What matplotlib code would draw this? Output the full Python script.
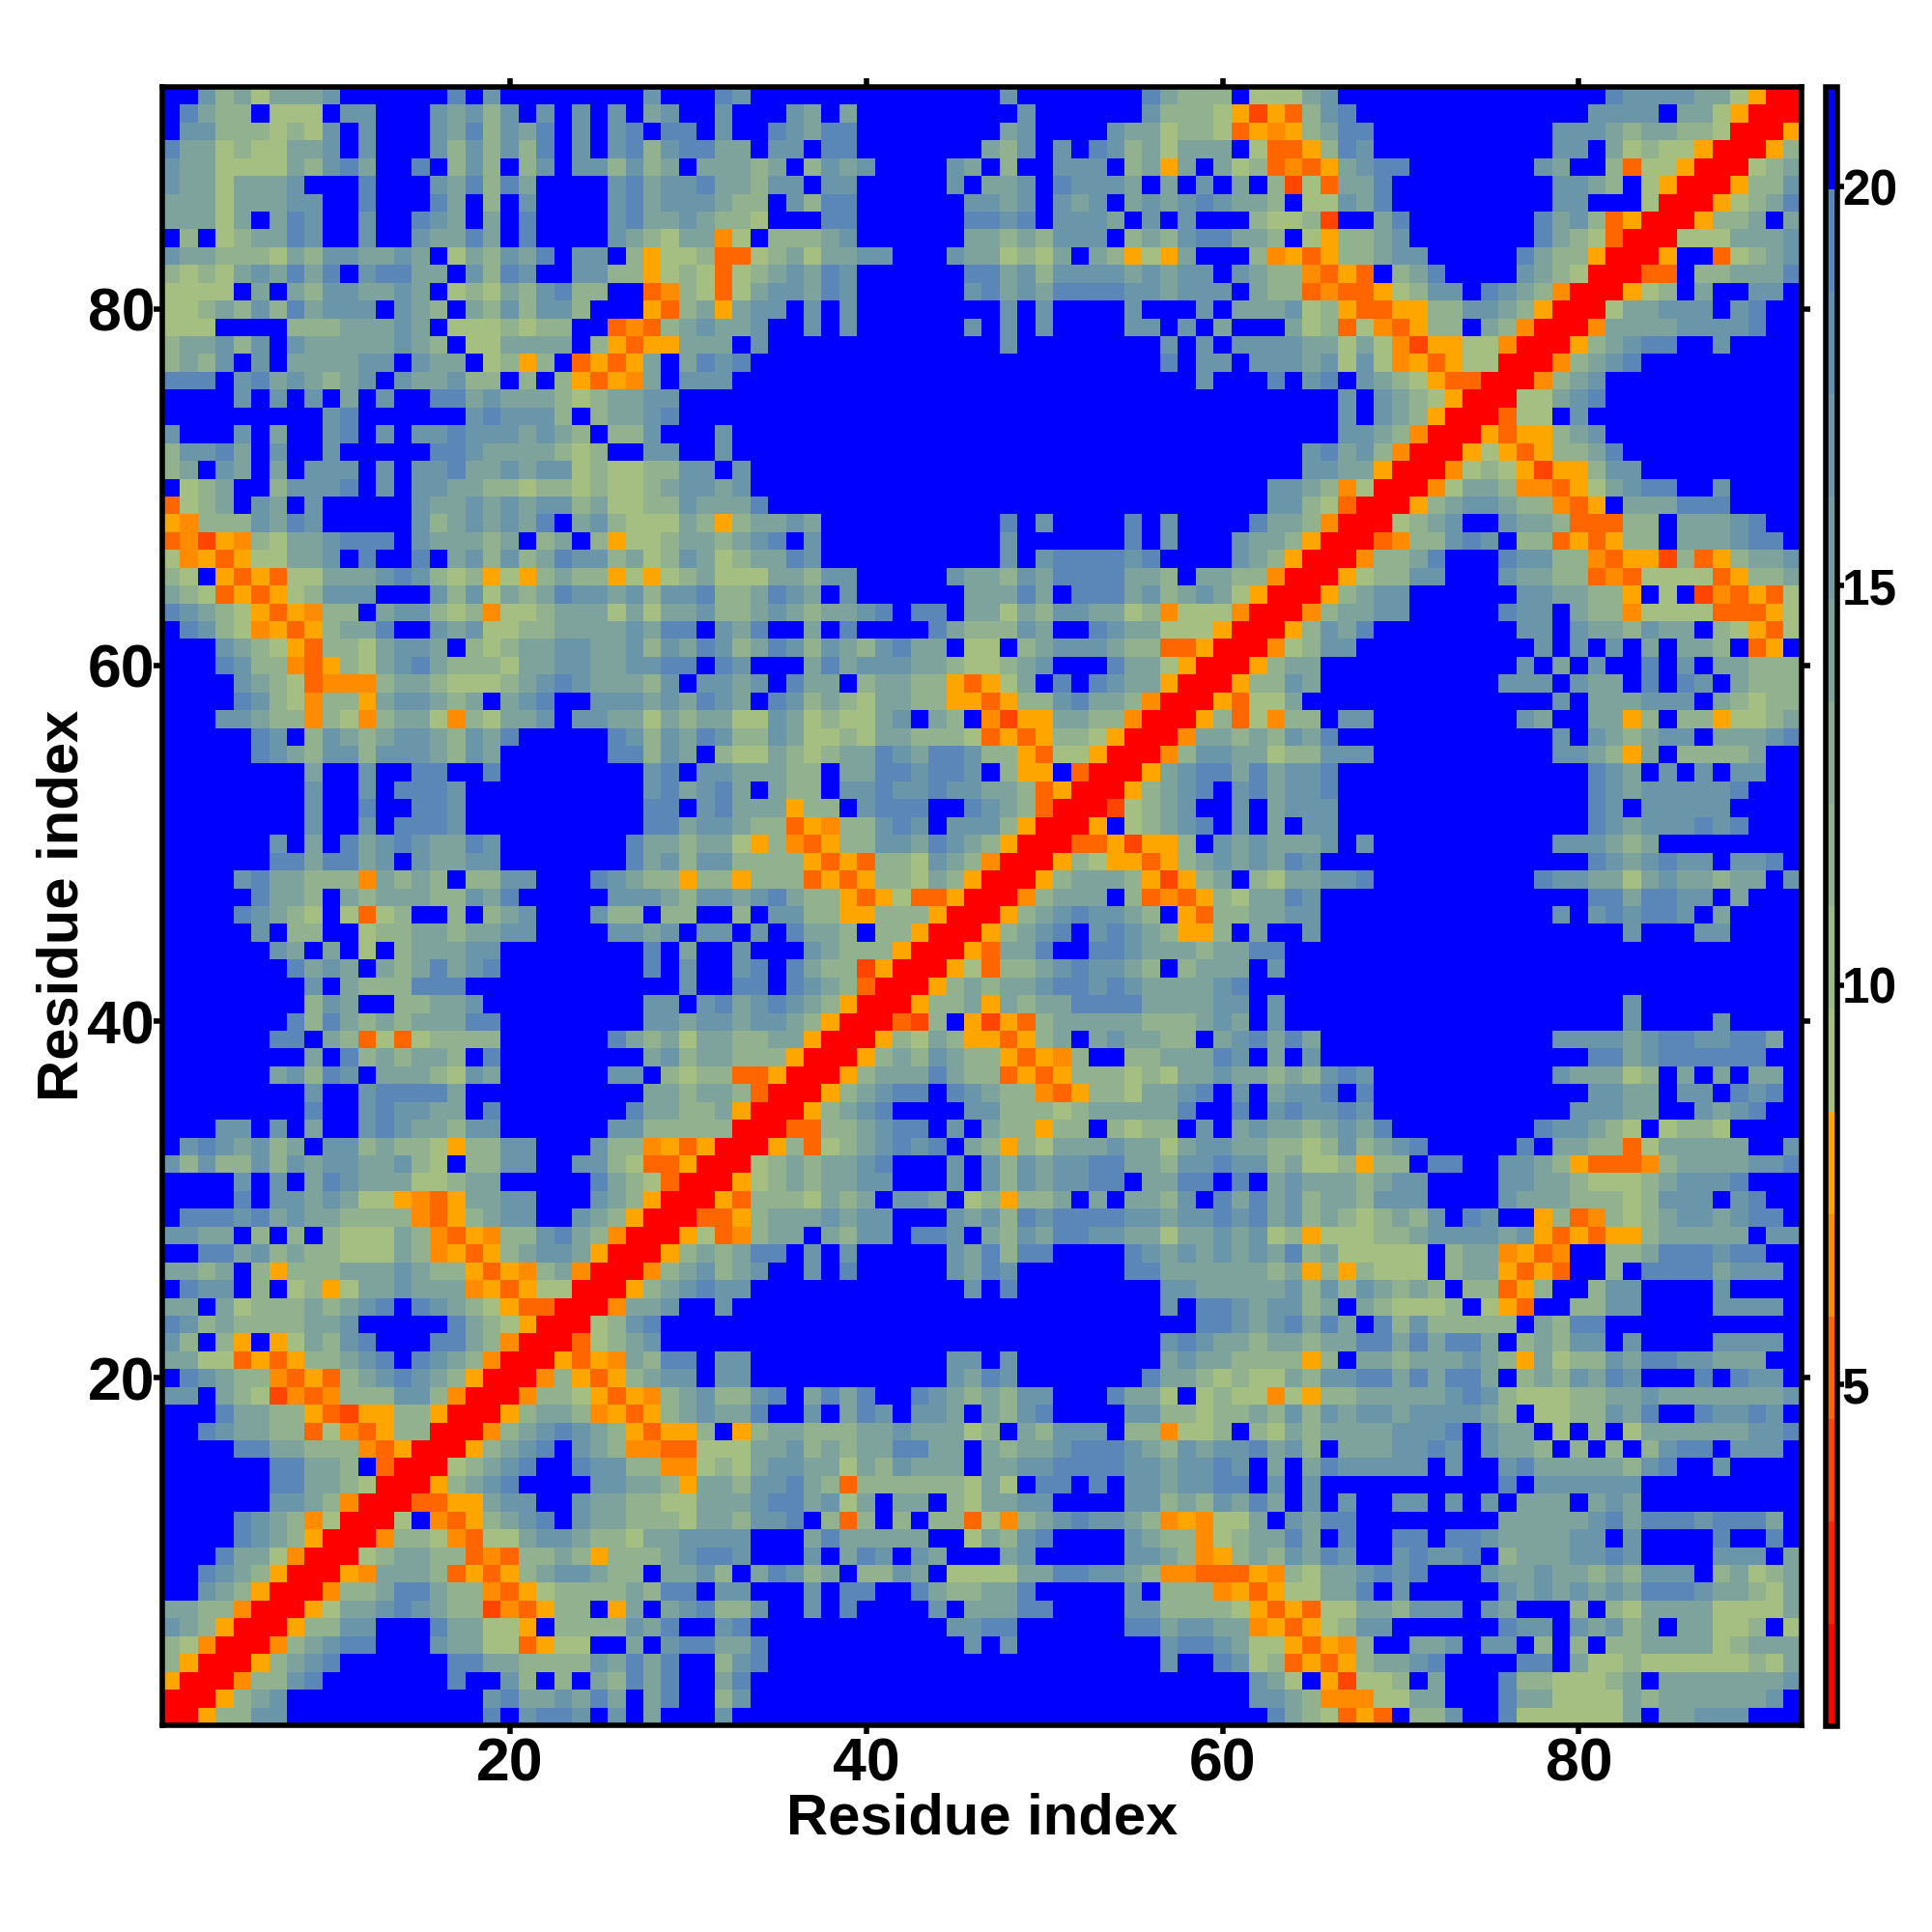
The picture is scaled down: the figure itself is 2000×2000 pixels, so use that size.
# Residue distance map, residues 1 to 92
import numpy as np
import matplotlib
matplotlib.use('Agg')
import matplotlib.pyplot as plt
from matplotlib.colors import ListedColormap, BoundaryNorm

plt.rcParams['font.family'] = ['Liberation Sans', 'DejaVu Sans']
plt.rcParams['font.weight'] = 'bold'

# letter codes, top row is residue 92
# columns 1 to 31
left_cols = [
"..jhigiiij......k.j........j...",
".kihh.ggg.jj...jijhj.j.j.j.ij..",
".jjhhhghgj.j...jikhjik.j.jk.kk.",
"kiighggiij.j...jhjhjhk.j.jkhjkk",
"jiiggggihjki..k.hjh.hj.jjhjhi.i",
"jiigiiij...k...jikhki....jkijjk",
"iiigiiijj..k...ki.h.j....jkijjj",
"iiigi.ikj..j..kji.i.k....jkiiji",
".h.ghiikj..j..jiiki.k....jihgii",
"jiihhhgihjjiiji.gihjik.jj.hyggh",
"hghgijikik.jkkii.jhkj..jjhhyghg",
"gggg.i.ihjjiiji.ghgihjkhh..nohg",
"gghihjhkijjj.jih.ihjhjjh...ynhi",
"ggg....hhhiiiji.ggghghh..nonhij",
"hiijhj.jiiiiijih.ggiiii.hynyyii",
"hihj.j.iiiijj.jii.ghyh.nynyi.ik",
"kkk.jkijihij.jiijhh.h.hynyoi.jj",
"....j.j.j.i.j..kkijiiihghiijj..",
".........jk......jkjjjh.hiijk..",
"j...j.i..jk.j.jjkjjjijih.hhj...",
"hjjki.j..j.....kkjiiiihgh..jj..",
"hi.ji.i.jjj.j.jjkiijijjghgghhjj",
".ghi..hjjjk.j.jjiihhghhghgghijj",
"nghi.ji.j.....jiijijijjhigghhji",
"yohhhjikj.....jhijijik.ijhgggih",
"nodyohgiijkkk.jiiihi.hi.hygghii",
"goynyggiij.k..k.ijhjhikjjhighji",
"hg.ynynggiiijkjhghygyhihhygyghi",
"ihgnynyghjjj...jhjgihikjjijhjjk",
"kjihgynyohh.ijjhghogghiiigigiij",
".kjhgoynyhiik..jijgghhiiiijikk.",
"...jihgynhhgijji.hghiijjiijhjik",
"...kjhhonyhgijkihhhgiijjiijjkk.",
"....jihgnooohiihggghijkjiiihj.j",
"....kjhgohhyijjihi.ijk..jjjijik",
"...jjihhohgohiigohgiij.jjiigihi",
".....kj.hjihijjihjik.....kjhjik",
".....kjihjjhjjjihji......kkhji.",
"........i..j..kk..k........jk.j",
"........j..j.kkkj..........jkij",
"........j..k..kkj..........kk.j",
"........j..j.kkkj..........kkij",
"......j.i.kijkjiikj.......kiihi",
"......kkikkij.jiijj.......kijhj",
"....jkiihhhoihih.hhjj...kjihhyh",
".....kiih.ihiiihhjik.....jjjihj",
"....kjihg.gngh..h.hij...jhh.hh.",
".....j.hh..ghhiihiijj....jjij.j",
"......ji.i.g.hiiijj........k.i.",
".......kiji.ihikijk........k.j.",
"........j.ihhhkkk............j.",
"........hji..hhiij.........jj.j",
".......khkihihiiikk........jjij",
"......kk.ihngnghhhh......kihigi",
"........i.khihiih.k........ijhi",
"......ijhkj.iiihgji......jj.hgh",
"........j..jkkkki..........iihi",
"........k..jkjjii.k.......kiihh",
"...jj.j.i..jkjiihjj......jjhhhh",
".jkjijhi.jjhihhgyhhjj...jhhoyny",
"jhjhhjhjijjiijhg.hhjj..jjhgnnyR",
"....j.j.ikjiiigghii.....kihgnRR",
"....k.jjijiggyonyiijj...jihyRRR",
".kkkjkijiihhhhonyhijj..jihyRRRn",
"jjii.h.h.hgggihonyohhjkihoRRRyg",
"..kkijhihhgggihoynyhijjiyRRRyhi",
"iihi.hyhhhiiijihhynyohioRRRohij",
".kjj.h.ghygiijiiioynyggRRRyhijk",
"ii.ighhhihijk.kjihgynnRRRoiij..",
"kjhihhhhiij.....kihgyRRRghjk...",
"jh.hy.ygihjk...kkihoRRRnghij...",
"iiggnynyhhijk.kjihoRRRynyoihkk.",
".kjihhonynhijkjihyRRRohynyhijj.",
"jj.ihgdonohhhjjhoRRRohhgynyohij",
"...kiihhyndyyhhyRRRyhiihoynyhij",
"..kjiihhngonyhhRRRohijkjihynyyh",
"....kkiihhhonyRRRyhijk.jihoonng",
"......kkiih.nRRRghijk..kjjhhoog",
"......kkiihgRRRyhijk....jjiihyi",
"......jjihoRRRnnyyijj..jiihhggi",
"....kjihogRRRg.onyhijk.jiihhhgi",
"....kjihyRRRohhgonggijjihhgiijj",
"...kiigoRRRghiihhnonhhihyhhhijk",
"..kjihyRRRyoiiihnynyhijjihh.iij",
"..jihyRRRohhikkihhonyghhhhihkk.",
"iihhoRRRygiijkjihhdonyhh.yi.ijk",
"jihyRRRyhhjj...kiiggy.hhhhjik..",
"hgoRRRohijkk...jiiggnygg..i.jkk",
"hyRRRyhijk......kkiihhhhjikik..",
"yRRRohhjk.......k..jh.h.ihkik..",
"RRRyhij...........jkiijiki.ik..",
"RRyhhjj...........k.jkkj.j.i...",
]
# columns 32 to 62
mid_cols = [
"kj..............j.......kihhh.g",
"j...ji.i.........j......jhhhgyd",
"j..kjikk........ij....jiighhgny",
"ii.jj.kk.......ihj.j.kjhigiii.g",
"iihi.hjij....ji.h..jjj.hiyi.igh",
"iihjj.jj.....j.iij.kjjji.i.j.i.",
"ihh.jhkk......jjij.jij.ijijkjii",
"hhg...kk......kkjk.jjji.j.j...h",
"og.hhhij......iihihjjj.hihjkkii",
"nnghigiijj...jiighgi.ihygyi...h",
"nghijikj......kkijhjjjjijijj.ji",
"ngijjikj......jkijikkkkjjijjj.i",
"yijj.j.j........j.j....j...j.ii",
"iij..j.j......j.j.j....jj.j.i..",
"i.j.............j........j.j.jj",
"jk.......................k.jj.j",
"j..........................j...",
"...............................",
"...............................",
"j..............................",
"j..............................",
".j.............................",
"ij.............................",
"iik............................",
"yhiiji..........k.j....k.j....k",
"hijk.j..........j......k.j...ji",
"ghiikj..........j.jkkkkjk....ji",
"gggiihjj.....jiihjikkkkiih.iihh",
"hhikji.j......iiiki.kkkijhijigy",
"hhijihiijk.kk.iigihjjiighogggoR",
"jik..i.k....kihhhji..kjiigggyRR",
"jhikjhjihjkii.gg.hijjjihhnnyRRR",
"kj...ikijjjiihgghij...kiigyRRRy",
"jij.kii.hiihhynygi.k.kjiiyRRRyh",
"ji.kjhihgiihhyynyhhjkiihoRRRyng",
"iggjighggij.ih.odyyiihhoRRRyhng",
"jhhjigghgiihhhgnynyhhgyRRRoiihi",
"hggihghiikjikkjhhynggyRRRohjjii",
"jiiihh.iikkjkkj.hyy.nRRRyijkkik",
"ki.ihh.jjkjjkjjiihnyRRRyhijk.jk",
"kiiiyhh.jkkk..kjihnRRRdghij..j.",
"jihhnyohhjkj.jjjhyRRRy.ghijk.j.",
"igyhonyhhjjikjihyRRRnnydyyh.jij",
"jhhhhynynhhgjihoRRRyhgyynyhijij",
"hyhhhnynyhhgihyRRRyhiiihydyhi.h",
"jijkihhynygnnyRRRohiii.hnonyhgi",
".h.jjhhyyhhhyRRRyhijkjjih.ynhhi",
"j.j.kiih.hhyRRRyhijk.jkjihyyh.i",
".j...jihhhyRRRyniik..kkjiiihiik",
".jk.kihhdyRRRygnhhijkjjih.hiii.",
".kk.kjihnRRRyhihiijkkjkjiiiijk.",
"kijkjihyRRRyhhiyihiikkkkiiiijj.",
"jijjihyRRRndh.ydynhiiiiihhhiji.",
"ihhiiyRRRyhgihyynyhi.ijiihh.ijk",
"ihhhyRRRyhihjihhynyoh..hhiiikj.",
"hnnyRRRyhiiikihhnynyhhhghgiijii",
"ihnRRRyhijkk.kjihhonyhhgiijk.j.",
"iyRRRyhijk....jjhhhghiiiiik..k.",
"hRRRnnhhijkk.j.ihhyhh.hghh.j.ij",
"RRRyhnghijkjk.ihyhgiiijiigijjii",
"RRghihiijk...j.jhjijjkkiihjjkjj",
"Ryghihiijj...j.jhjijjkk.iikk.k.",
"ynhhhgihi.jji.ghyhhi.i.iihj.kik",
"nyhiiijijj...jijhkjkkkkjjijjkjk",
"nohii.ihjj.kkj.ihjikkjjiigiijij",
"hikk.j.j.....jikhkk....kjijijij",
"hij..j.k.....jikj......kkiiiiii",
"jj............j.k........jjiiii",
"j........................j.kkji",
"...........................kkji",
".........................jkjiih",
"jj...........jj.j........ijiihh",
"jj...........jikj.......kiihghg",
"hhjk.ikik..kjihihjj...kiig.ghgg",
"iik..j.ikj.jji.ihjk....jjhhghhi",
".yhiihhhiijiiigh.ihjjj.hhoggh.h",
"ggiijhihiikkii.ihiijkkkjihjijjk",
"hgijjiigihjiii.iijjkkkkjjijjkj.",
"ihjjkihnhhhhhhgig.kk.k.jjijjkk.",
"iijkkijgi.ii.hgiijj....jjhihjik",
"ihjjk.hnh.h.hhngohijkjjihoyoggi",
"jj...ikiiiii..gihjk....jihhoghi",
"kj...j.ikj.ji...ij.....jjihoyhi",
"h.ikjhi.hhji.ggggiikkjjihoonnny",
"jj...j.kk..kihhiik.....j.hhhoyn",
"hhj..j.k....j.iiikk....jjhhhhgy",
"jk...........jjkk......kkijjiio",
"iik...........j.j........jkkjig",
"hjk......................j..kjg",
"ik............................j",
"hj............................j",
"j..............................",
]
# columns 63 to 92
right_cols = [
"ggij...............kjjjjiigyRR",
"ynhjk.............jjjj.iigyRRR",
"oyhikk..........jjjihiihhgRRRy",
"nnyhkj..........jj.ighggyRRRyh",
"nonyijkk.......ji..hnggyRRRghi",
"hdgniik.........jjih.gyRRRyhhj",
"h.ggjik.........jj...gRRRyghik",
"gghd..ik.......kijhnyRRRyhhi.i",
"h.gyhhij.......kihgnRRRgggiiij",
"oynyhhijj.....kihhyRRRy..nghij",
"hhonyn.hik....jihgRRRnn.hhiiik",
"hhnonnyghjj.kjihoRRRygh.i..jj.",
"ijghynnyyhhjjihyRRRgiijjj.jk..",
".ighngonyhh.ihoRRRoiiiijjjjk..",
"jjiigigodyyggoRRRyhijkk..j....",
"jjijgjgoynyggRRRohijk.........",
"k.jk.jihgynnRRRohij...........",
"....j.jihgyRRRggijk...........",
"....j.jihyRRRngg.j............",
"....jjihoRRRynyyhij...........",
"..jkijhoRRRygynyhhik..........",
"..jjiiyRRRoghgydyyhjj.........",
"jjihogRRRogiihoonygijkk..j....",
"jjhgnRRRyhijjihhony.iiikkk....",
"iihoRRRghij..jiihnnnhh.iiijk..",
"ihyRRRnohhjkj.hhnynyhh.iiijkk.",
"hyRRRohhik...kjjhhonyydhnyhiij",
"oRRRyghhjj...jiihhnonggggnyhhi",
"RRRyhijj......jjiihhy.g.donyng",
"RRohiijj.....kjj.ihhoggggnnnyg",
"Ryhjik........jj.jiihjii.hgyng",
"oghjj..........j.j.j.i.iih.ny.",
"hii...........j.i.j..k.j.iihhh",
"hji..........jjj.jii.k.kj.ihhh",
"gi..............j.iiijjj.ihghh",
"ohh.jj........ji..iiyh.hhygghi",
"hjik............j.jihijj.iiijk",
"ghhjjj..........jjihyi.hhhhi..",
"ijjk..............kji.j.j.jj..",
"ijjk..............kjijjjjjk...",
"ijjj..............kj.jjjjj....",
"i.jj..............kjijjjkjk...",
"iiij.j..........jjjihi........",
"ikj...............kjijkjj.jjk.",
"giijjk.........kjjiigijiihii.j",
"ikj...............kkikkjj.i...",
"ijj.............j.jkjkkj.i....",
"..j.................j...jj....",
"k.............................",
"j.............................",
"..............................",
"j...................j.........",
"j...................j....j....",
"iki.............jjjjijkkjjkki.",
"i.j...............kkijkkkkkk..",
"hihjkj..........jiiigh.i.i.ii.",
"ijjk.k............jjii.jj.kjk.",
"jkjjkj...........jjjii..jijk..",
"iihijik........kjjihg.ghhg....",
"hhghjhijk.....k.iihhngiiiii..j",
"higghyhh.kk..jjihynnnohiiiijjk",
"ijiiihijj....jjiihggghijjjk...",
"ijhiihjjj....jiiihhhghjjj.jk..",
"ijhihghihj.kj..yhnohghijjijkk.",
"ghyggghhijjjjijynynyyhiiiii.jj",
"ikhiggggg.hiioyno..hhikkkjkk..",
"hiyhyhggg.hiiynyn..h.kkkkijjj.",
"ijhjhjihih.hhnyh..hjj....j....",
"jjhi.ihgggh.gyn..hhjj....jjjj.",
"jkiki.khjhhhhh.ihkk...........",
"iihiikkikikki.hihjj.j....jjjj.",
"hhyh.iihiiijihyighhjikkjjiii..",
"gihjjkkikikki.hihjikj...k.kjj.",
"ogyhhiiiiijkjhggghhiijiiiiiiij",
"hjhjijjijjjjih.gghhjik..kjjkj.",
"gihiiiijjjk.jii.g.h.giiiiiijjk",
"ijh.iiijjkj.jiih.h.h.hjkk.jjj.",
"i.ikjjjjj.j..jkiiiiihjk..j....",
"j.j..........k.jjjjjj.........",
"i.j.j..jj.j.j.iii.iji.........",
".jikk........iiiiijkikkkjkkki.",
"iki.k..kk.kkjiiiijj.j....k..k.",
"hjikj..jkjjk.hiiijjkj....jjj.i",
"ohgiijkjk...jiijiihihjjj.highi",
"yggiik.j.....jijijijikkkjiihgi",
"nynggiihjjj.ji...h.hgiiiiggggi",
"ynyghjj......kjj.jijhi.iiggh.g",
"gynyoh..iij.jj.h.h.hhiiiighiii",
"hnynyhiijk....kk.igghgggggghgi",
"ig.ydggh.i...khhggghi.iiiiiiij",
"jihoooggii...kiiggggihiiiiiij.",
"kihgnyn.hhj..kggggggi.iijjj...",
]

# distance in angstrom for each letter
code_values = {'R': 1.4, 'd': 4.0, 'n': 5.2, 'o': 6.5, 'y': 7.8,
               'g': 9.1, 'h': 11.6, 'i': 14.2, 'j': 16.8, 'k': 19.3, '.': 20.6}

band_colors = ['#ff0000', '#ff2200', '#ff4500', '#ff6600', '#ff8c00', '#ffa500',
               '#a5bf82', '#9cb888', '#92b18f', '#88aa95', '#7ea39c', '#749ca2',
               '#6b95a9', '#628eb0', '#5a87b8', '#0000ff']
band_edges = np.linspace(0.72, 21.25, 17)

rows = [a + b + c for a, b, c in zip(left_cols, mid_cols, right_cols)]
dist = np.array([[code_values[c] for c in r] for r in rows])

cmap = ListedColormap(band_colors)
norm = BoundaryNorm(band_edges, cmap.N)

fig = plt.figure(figsize=(10, 10), dpi=200)
ax = fig.add_axes([168/2000, 1 - 1785.5/2000, (1865-168)/2000, (1785.5-89.5)/2000])
im = ax.imshow(dist, cmap=cmap, norm=norm, origin='upper', aspect='auto',
               interpolation='nearest', extent=(0.5, 92.5, 0.5, 92.5))

ax.set_xticks([20, 40, 60, 80])
ax.set_yticks([20, 40, 60, 80])
ax.tick_params(axis='both', direction='out', length=3.4, width=2, top=True, right=True,
               labelsize=22.5, pad=0.8)
ax.tick_params(axis='y', pad=-0.6)
for s in ax.spines.values():
    s.set_linewidth(2.0)
ax.set_xlabel('Residue index', fontsize=21.5, fontweight='bold')
ax.set_ylabel('Residue index', fontsize=21.5, fontweight='bold')
ax.xaxis.set_label_coords(0.5, -0.0413)
ax.yaxis.set_label_coords(-0.0445, 0.5)

cax = fig.add_axes([1889.5/2000, 1 - 1787/2000, 12/2000, (1787-89.7)/2000])
cb = fig.colorbar(im, cax=cax, spacing='proportional', ticks=[5, 10, 15, 20])
cb.outline.set_linewidth(2.0)
cb.ax.minorticks_off()
cb.ax.tick_params(direction='out', length=2.6, width=2, labelsize=18.5, pad=-0.7)

fig.savefig('out.png', dpi=200)
